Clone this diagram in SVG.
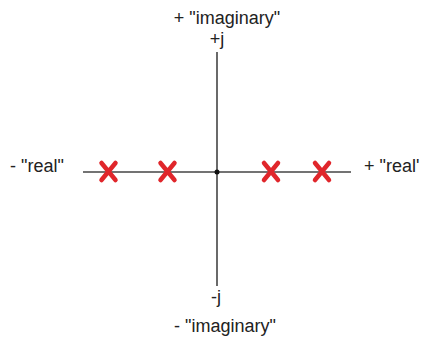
<svg xmlns="http://www.w3.org/2000/svg" width="422" height="340" viewBox="0 0 422 340">
<style>
text{font-family:"Liberation Sans",Arial,sans-serif;font-size:18px;fill:#222}
.ax{stroke:#444;stroke-width:1.6;fill:none}
.x{stroke:#e0262b;stroke-width:4.5;stroke-linecap:round}
</style>
<rect width="422" height="340" fill="#fff"/>
<g id="axes">
<line class="ax" x1="217" y1="52" x2="217" y2="286"/>
<line class="ax" x1="83" y1="172" x2="351" y2="172"/>
<circle cx="217" cy="172" r="2.5" fill="#111"/>
</g>
<g id="poles">
<path class="x" d="M101.5 163L115.5 180M115.5 163L101.5 180"/>
<path class="x" d="M160.5 163L174.5 180M174.5 163L160.5 180"/>
<path class="x" d="M264 163L278 180M278 163L264 180"/>
<path class="x" d="M315 163L329 180M329 163L315 180"/>
</g>
<g id="labels">
<text x="227" y="24" text-anchor="middle">+ "imaginary"</text>
<text x="217" y="45" text-anchor="middle">+j</text>
<text x="10" y="172">- "real"</text>
<text x="364" y="172">+ "real'</text>
<text x="216" y="303" text-anchor="middle">-j</text>
<text x="225" y="332" text-anchor="middle">- "imaginary"</text>
</g>
</svg>
